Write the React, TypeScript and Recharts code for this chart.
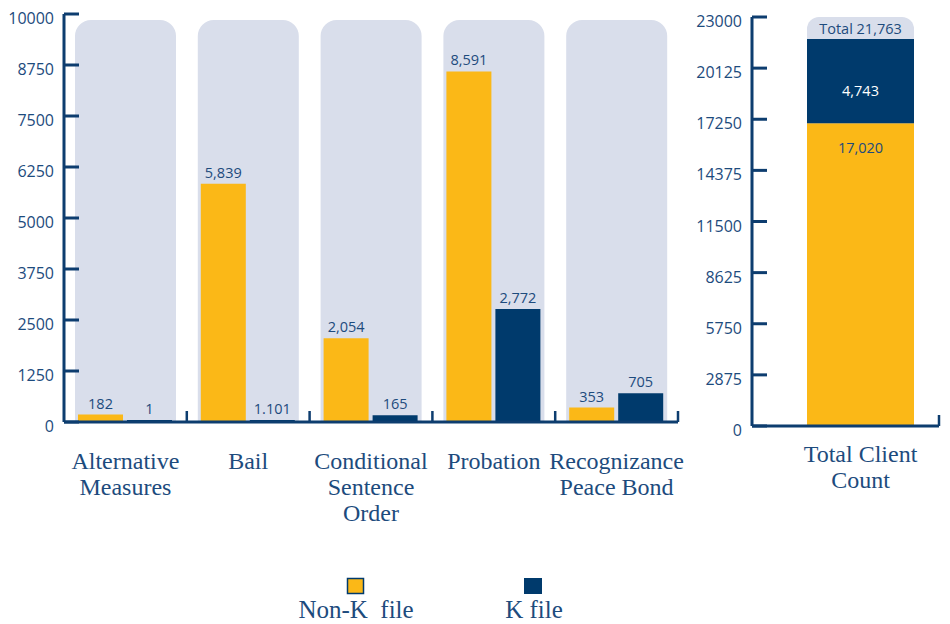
import { BarChart, Bar, XAxis, YAxis, LabelList } from 'recharts';

// left panel: clients by disposition
const categoryLines = [
  ['Alternative', 'Measures'],
  ['Bail'],
  ['Conditional', 'Sentence', 'Order'],
  ['Probation'],
  ['Recognizance', 'Peace Bond'],
];
const nonKFile = [182, 5839, 2054, 8591, 353];
const kFile = [1, 1.101, 165, 2772, 705];
const panelLevel = [9850, 9850, 9850, 9850, 9850];
const leftTicks = [0, 1250, 2500, 3750, 5000, 6250, 7500, 8750, 10000];

// right panel: total client count
const totalLines = ['Total Client', 'Count'];
const totalNonK = [17020];
const totalK = [4743];
const totalPanel = [23000];
const rightTicks = [0, 2875, 5750, 8625, 11500, 14375, 17250, 20125, 23000];

const YELLOW = '#fbb817';
const NAVY = '#003a6c';
const PANEL = '#d9deeb';
const AXIS = '#0d3d6f';
const TEXT = '#1d4b7d';
const SANS = '"Open Sans", "Noto Sans", sans-serif';
const SERIF = '"Liberation Serif", "DejaVu Serif", serif';

const leftData = categoryLines.map((lines, i) => ({
  name: lines.join('|'),
  nonK: nonKFile[i],
  k: kFile[i],
  panel: panelLevel[i],
}));

const rightData = [
  {
    name: totalLines.join('|'),
    nonK: totalNonK[0],
    k: totalK[0],
    panel: totalPanel[0],
    total: totalNonK[0] + totalK[0],
  },
];

const fmt = (v: any) => Number(v).toLocaleString('en-US');

function YTick({ x, y, payload }: any) {
  return (
    <g>
      <line x1={x} x2={x + 15} y1={y} y2={y} stroke={AXIS} strokeWidth={3} />
      <text x={x - 10} y={y} dy={10} textAnchor="end" fill={TEXT} style={{ fontFamily: SANS, fontSize: 16 }}>
        {payload.value}
      </text>
    </g>
  );
}

// category label plus the short upright tick at the right edge of its band
function CategoryTick({ x, y, payload, firstDy, halfBand }: any) {
  const lines = String(payload.value).split('|');
  const edge = x + halfBand;
  return (
    <g>
      <line x1={edge} x2={edge} y1={y} y2={y - 11} stroke={AXIS} strokeWidth={2.5} />
      <text x={x} y={y} textAnchor="middle" fill={TEXT} style={{ fontFamily: SERIF, fontSize: 24 }}>
        {lines.map((l, i) => (
          <tspan key={i} x={x} dy={i === 0 ? firstDy : 26}>
            {l}
          </tspan>
        ))}
      </text>
    </g>
  );
}

const labelStyle = { fontFamily: SANS, fontSize: 14.5 };

function Legend() {
  return (
    <svg width={950} height={624} style={{ position: 'absolute', left: 0, top: 0, pointerEvents: 'none' }}>
      <rect x={347.5} y={578.5} width={16} height={15} fill={YELLOW} stroke={NAVY} strokeWidth={1.5} />
      <text x={356} y={618} textAnchor="middle" fill={TEXT} style={{ fontFamily: SERIF, fontSize: 25, whiteSpace: 'pre' }}>
        {'Non-K  file'}
      </text>
      <rect x={524} y={578} width={18} height={16} fill={NAVY} />
      <text x={534} y={618} textAnchor="middle" fill={TEXT} style={{ fontFamily: SERIF, fontSize: 25 }}>
        K file
      </text>
    </svg>
  );
}

export default function App() {
  return (
    <div style={{ position: 'absolute', left: 0, top: 0, width: 950, height: 624, background: '#fff' }}>
      <div style={{ position: 'absolute', left: 0, top: 0 }}>
        <BarChart width={700} height={540} data={leftData} barGap={4} margin={{ top: 14, right: 22, left: 4, bottom: 18 }}>
          <XAxis xAxisId="main" dataKey="name" height={100} axisLine={{ stroke: AXIS, strokeWidth: 3 }}
            tickLine={false} tickSize={0} tickMargin={0} interval={0}
            tick={(p: any) => <CategoryTick {...p} firstDy={47} halfBand={614 / 10} />} />
          <XAxis xAxisId="panel" dataKey="name" hide height={0} />
          <YAxis width={60} domain={[0, 10000]} ticks={leftTicks} interval={0} allowDataOverflow
            axisLine={{ stroke: AXIS, strokeWidth: 3 }} tickLine={false} tickSize={0} tickMargin={0} tick={YTick} />
          <Bar xAxisId="panel" dataKey="panel" fill={PANEL} barSize={101} radius={[16, 16, 0, 0]} isAnimationActive={false} />
          <Bar xAxisId="main" dataKey="nonK" name="Non-K file" fill={YELLOW} barSize={45} isAnimationActive={false}>
            <LabelList dataKey="nonK" position="top" offset={6} fill={TEXT} style={labelStyle} formatter={fmt} />
          </Bar>
          <Bar xAxisId="main" dataKey="k" name="K file" fill={NAVY} barSize={45} minPointSize={2} isAnimationActive={false}>
            <LabelList dataKey="k" position="top" offset={6} fill={TEXT} style={labelStyle} formatter={fmt} />
          </Bar>
        </BarChart>
      </div>
      <div style={{ position: 'absolute', left: 690, top: 0 }}>
        <BarChart width={260} height={540} data={rightData} margin={{ top: 17, right: 11, left: 0, bottom: 34 }}>
          <XAxis xAxisId="main" dataKey="name" height={80} padding={{ left: 30, right: 0 }}
            axisLine={{ stroke: AXIS, strokeWidth: 3 }} tickLine={false} tickSize={0} tickMargin={0} interval={0}
            tick={(p: any) => <CategoryTick {...p} firstDy={36} halfBand={157 / 2} />} />
          <XAxis xAxisId="panel" dataKey="name" hide height={0} padding={{ left: 30, right: 0 }} />
          <YAxis width={62} domain={[0, 23000]} ticks={rightTicks} interval={0} allowDataOverflow
            axisLine={{ stroke: AXIS, strokeWidth: 3 }} tickLine={false} tickSize={0} tickMargin={0} tick={YTick} />
          <Bar xAxisId="panel" dataKey="panel" fill={PANEL} barSize={107} radius={[12, 12, 0, 0]} isAnimationActive={false}>
            <LabelList dataKey="total" position="insideTop" offset={7} fill={TEXT} style={labelStyle}
              formatter={(v: any) => `Total ${fmt(v)}`} />
          </Bar>
          <Bar xAxisId="main" dataKey="nonK" stackId="t" fill={YELLOW} barSize={107} isAnimationActive={false}>
            <LabelList dataKey="nonK" position="insideTop" offset={19} fill={TEXT} style={labelStyle} formatter={fmt} />
          </Bar>
          <Bar xAxisId="main" dataKey="k" stackId="t" fill={NAVY} barSize={107} isAnimationActive={false}>
            <LabelList dataKey="k" position="insideTop" offset={47} fill="#ffffff" style={labelStyle} formatter={fmt} />
          </Bar>
        </BarChart>
      </div>
      <Legend />
    </div>
  );
}
